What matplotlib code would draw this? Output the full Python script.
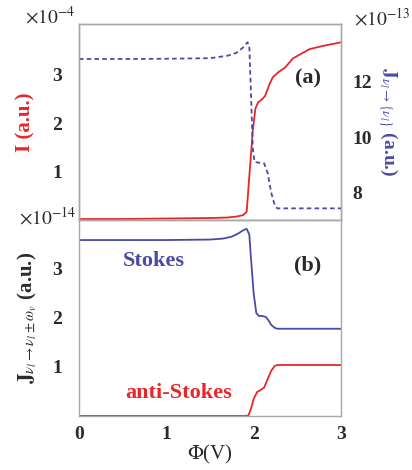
import matplotlib
matplotlib.use("Agg")
import matplotlib.pyplot as plt

# ---- data ----
phi_I = [0, 0.5, 1.0, 1.5, 1.7, 1.8, 1.88, 1.92, 1.95, 1.99, 2.02, 2.05, 2.1, 2.13, 2.18, 2.22, 2.28, 2.36, 2.45, 2.55, 2.64, 2.8, 3.0]
I_vals = [0.02, 0.02, 0.03, 0.04, 0.05, 0.07, 0.1, 0.17, 0.9, 1.85, 2.3, 2.43, 2.5, 2.56, 2.8, 2.95, 3.05, 3.15, 3.34, 3.44, 3.53, 3.6, 3.67]

phi_Jt = [0, 0.5, 1.0, 1.5, 1.7, 1.8, 1.88, 1.93, 1.95, 1.97, 1.99, 2.01, 2.05, 2.12, 2.16, 2.2, 2.24, 2.27, 2.5, 3.0]
Jt_vals = [12.83, 12.83, 12.84, 12.86, 12.95, 13.05, 13.25, 13.44, 13.3, 11.5, 9.6, 9.1, 9.08, 9.05, 8.7, 8.0, 7.55, 7.42, 7.42, 7.42]

phi_S = [0, 0.5, 1.0, 1.5, 1.65, 1.75, 1.82, 1.88, 1.92, 1.95, 1.97, 2.0, 2.03, 2.06, 2.1, 2.14, 2.17, 2.2, 2.24, 2.27, 2.5, 3.0]
S_vals = [3.59, 3.59, 3.59, 3.6, 3.62, 3.66, 3.72, 3.79, 3.82, 3.7, 3.2, 2.5, 2.1, 2.04, 2.04, 2.02, 1.95, 1.86, 1.8, 1.78, 1.78, 1.78]

phi_A = [0, 0.5, 1.0, 1.5, 1.9, 1.94, 1.97, 2.0, 2.04, 2.08, 2.12, 2.16, 2.2, 2.24, 2.27, 2.5, 3.0]
A_vals = [0.0, 0.0, 0.0, 0.0, 0.0, 0.01, 0.15, 0.35, 0.49, 0.53, 0.58, 0.75, 0.92, 1.02, 1.04, 1.04, 1.04]

x_ticks = [0, 1, 2, 3]
left_top_ticks = [1, 2, 3]
right_top_ticks = [8, 10, 12]
bottom_ticks = [1, 2, 3]

# ---- style ----
plt.rcParams['font.family'] = ['Liberation Serif', 'DejaVu Serif']
plt.rcParams['mathtext.fontset'] = 'stix'
RED = '#e8262a'
BLUE = '#4a4aa8'
GREY = '#a8a8a8'
DARK = '#2a2a2a'

fig = plt.figure(figsize=(4.12, 4.70), dpi=100)
ax1 = fig.add_axes([0.1917, 0.532, 0.636, 0.417])
ax2 = fig.add_axes([0.1917, 0.115, 0.636, 0.417])
ax1r = ax1.twinx()

for a in (ax1, ax2, ax1r):
    for s in a.spines.values():
        s.set_color(GREY)
        s.set_linewidth(1.0)

ax1.plot(phi_I, I_vals, color=RED, lw=1.3)
ax1.set_xlim(0, 3)
ax1.set_ylim(0, 4.05)
ax1.set_xticks([])
ax1.set_yticks(left_top_ticks)
ax1.tick_params(axis='y', length=0, labelsize=14, pad=12, labelcolor=DARK)
for t in ax1.get_yticklabels():
    t.set_fontweight('bold')
ax1.set_ylabel('I (a.u.)', color=RED, fontsize=15, fontweight='bold', labelpad=12)

ax1r.plot(phi_Jt, Jt_vals, color=BLUE, lw=1.3, ls=(0, (2.5, 1.8)))
ax1r.set_ylim(7, 14.1)
ax1r.set_yticks(right_top_ticks)
ax1r.tick_params(axis='y', length=0, labelsize=14, pad=8, labelcolor=DARK)
for t in ax1r.get_yticklabels():
    t.set_fontweight('bold')
ax1r.set_ylabel(r'$\mathbf{J}_{\nu_l\rightarrow\{\nu_l\}}$ (a.u.)', color=BLUE,
                fontsize=14, fontweight='bold', rotation=-90, labelpad=20)

ax1.text(0.925, 0.72, '(a)', transform=ax1.transAxes, ha='right', va='center',
         fontsize=16, fontweight='bold', color=DARK)

ax2.plot(phi_S, S_vals, color=BLUE, lw=1.3)
ax2.plot(phi_A, A_vals, color=RED, lw=1.3)
ax2.set_xlim(0, 3)
ax2.set_ylim(0, 4.0)
ax2.set_xticks(x_ticks)
ax2.set_yticks(bottom_ticks)
ax2.tick_params(axis='both', length=0, labelsize=14, labelcolor=DARK)
ax2.tick_params(axis='y', pad=12)
ax2.tick_params(axis='x', pad=7)
for t in ax2.get_yticklabels() + ax2.get_xticklabels():
    t.set_fontweight('bold')
ax2.set_ylabel(r'$\mathbf{J}_{\nu_l\rightarrow\nu_l\pm\omega_v}$ (a.u.)',
               fontsize=15, fontweight='bold', labelpad=10, color=DARK)
ax2.set_xlabel(r'$\Phi$(V)', fontsize=15, labelpad=0, color=DARK)

ax2.text(0.285, 0.79, 'Stokes', transform=ax2.transAxes, ha='center', va='center',
         fontsize=16, fontweight='bold', color=BLUE)
ax2.text(0.38, 0.115, 'anti-Stokes', transform=ax2.transAxes, ha='center', va='center',
         fontsize=16, fontweight='bold', color=RED)
ax2.text(0.925, 0.77, '(b)', transform=ax2.transAxes, ha='right', va='center',
         fontsize=16, fontweight='bold', color=DARK)

fig.text(0.06, 0.965, r'$\times10^{-4}$', fontsize=14, ha='left', va='center', color=DARK)
fig.text(0.86, 0.962, r'$\times10^{-13}$', fontsize=14, ha='left', va='center', color=DARK)
fig.text(0.045, 0.538, r'$\times10^{-14}$', fontsize=14, ha='left', va='center', color=DARK)

fig.savefig('out.png', dpi=100)
